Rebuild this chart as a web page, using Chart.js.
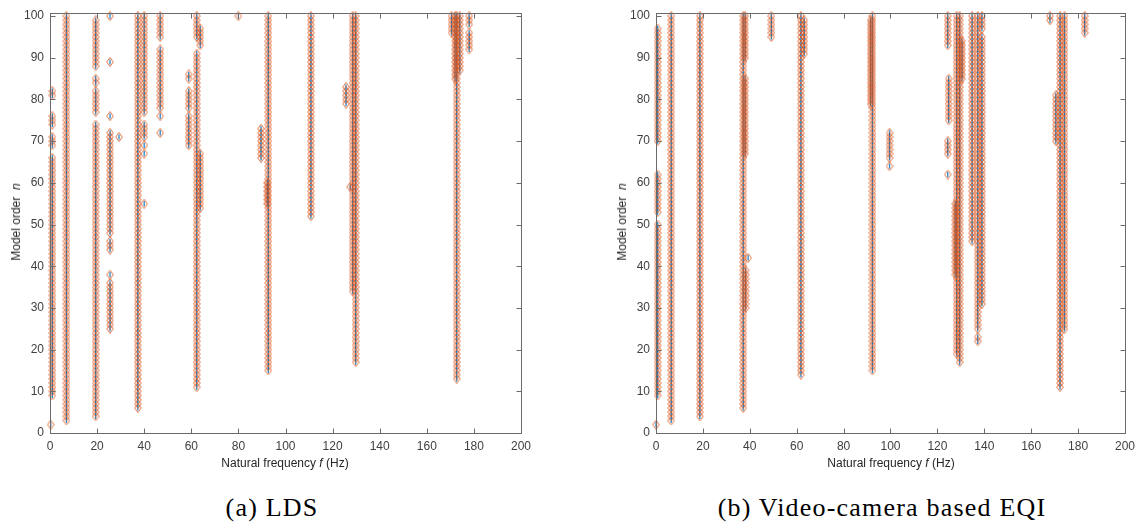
<!DOCTYPE html>
<html>
<head>
    <title>Stabilization diagrams</title>
    <script src="https://cdn.jsdelivr.net/npm/chart.js@4.4.1/dist/chart.umd.min.js"></script>
    <style>
        body {
            margin: 0;
            background: #fff;
            width: 1141px;
            height: 532px;
            position: relative;
            overflow: hidden;
        }
        canvas {
            position: absolute;
            top: 0;
        }
        .axis-title {
            position: absolute;
            font-family: "Liberation Sans", Arial, sans-serif;
            font-size: 12px;
            color: #262626;
            white-space: nowrap;
            transform: translate(-50%, -50%);
        }
        .axis-title.vertical {
            transform: translate(-50%, -50%) rotate(-90deg);
        }
        .caption {
            position: absolute;
            font-family: "Liberation Serif", "Times New Roman", serif;
            font-size: 26px;
            letter-spacing: 1.2px;
            color: #000;
            white-space: nowrap;
            transform: translate(-50%, -50%);
        }
    </style>
</head>
<body>
    <canvas id="ldsChart" width="570" height="480" style="left:0"></canvas>
    <canvas id="eqiChart" width="571" height="480" style="left:570px"></canvas>

    <div class="axis-title" style="left:285px; top:463px">Natural frequency <i>f</i> (Hz)</div>
    <div class="axis-title" style="left:891px; top:463px">Natural frequency <i>f</i> (Hz)</div>
    <div class="axis-title vertical" style="left:16px; top:222px">Model order&nbsp; <i>n</i></div>
    <div class="axis-title vertical" style="left:622px; top:222px">Model order&nbsp; <i>n</i></div>

    <div class="caption" style="left:272px; top:508px">(a) LDS</div>
    <div class="caption" style="left:882px; top:508px">(b) Video-camera based EQI</div>

    <script>
        // stable poles: [frequency (Hz), lowest order n, highest order n]
        const ldsPoles = [
            [0.3, 2, 2], [1, 9, 66], [1, 69, 71], [1, 74, 76], [1, 81, 82],
            [7, 3, 100],
            [19.4, 4, 74], [19.4, 77, 82], [19.4, 84, 85], [19.4, 88, 99],
            [25.5, 25, 36], [25.5, 38, 38], [25.5, 44, 46], [25.5, 48, 72],
            [25.5, 76, 76], [25.5, 89, 89], [25.5, 100, 100], [29.3, 71, 71],
            [37.3, 6, 100],
            [40, 77, 100], [40, 71, 74], [40, 69, 69], [40, 67, 67], [40, 55, 55],
            [46.8, 95, 100], [46.8, 78, 92], [46.8, 76, 76], [46.8, 72, 72],
            [58.9, 85, 86], [58.9, 78, 82], [58.9, 69, 76],
            [62.3, 11, 91], [62.3, 95, 100], [63.8, 93, 97], [63.8, 54, 67],
            [80, 100, 100],
            [89.6, 66, 73],
            [92.7, 15, 100], [92.3, 55, 60],
            [110.8, 52, 100],
            [125.7, 79, 83], [128.5, 34, 100], [129.8, 17, 100], [127.5, 59, 59],
            [170.5, 96, 100], [172.7, 13, 100], [172, 85, 100], [174, 87, 100],
            [178, 98, 100], [178, 92, 96]
        ];

        const eqiPoles = [
            [0, 2, 2], [0.7, 9, 50], [0.7, 53, 62], [0.7, 70, 97],
            [6.5, 3, 100],
            [18.7, 4, 100],
            [37.2, 6, 100], [38, 90, 100], [38, 67, 85], [39.3, 42, 42], [38.2, 30, 39],
            [49.2, 95, 100],
            [61.8, 14, 100], [63.2, 91, 99],
            [92.3, 15, 100], [91.5, 79, 99],
            [99.6, 66, 72], [99.6, 64, 64],
            [124.4, 93, 100], [124.8, 75, 85], [124.4, 67, 70], [124.4, 62, 62],
            [128.2, 19, 100], [129.5, 17, 100], [130.5, 85, 94], [127.6, 38, 55],
            [134.8, 46, 100],
            [137.2, 25, 100], [137.2, 22, 23],
            [139, 31, 95], [139, 97, 100],
            [168, 99, 100],
            [170.5, 70, 81], [172.3, 11, 100], [174.2, 25, 100],
            [182.8, 96, 100]
        ];

        const freqTicks = [0, 20, 40, 60, 80, 100, 120, 140, 160, 180, 200];
        const orderTicks = [0, 10, 20, 30, 40, 50, 60, 70, 80, 90, 100];

        // one pole per model order inside each stable range
        function polePoints(poles) {
            const pts = [];
            poles.forEach(([f, lo, hi]) => {
                for (let n = lo; n <= hi; n++) pts.push({ x: f, y: n });
            });
            return pts;
        }

        // tall hollow diamond marker, like the MATLAB one
        const diamond = document.createElement('canvas');
        diamond.width = 8;
        diamond.height = 10;
        (function () {
            const c = diamond.getContext('2d');
            c.strokeStyle = 'rgba(217, 83, 25, 0.8)';
            c.lineWidth = 1;
            c.beginPath();
            c.moveTo(4, 0.5);
            c.lineTo(7.3, 5);
            c.lineTo(4, 9.5);
            c.lineTo(0.7, 5);
            c.closePath();
            c.stroke();
        })();

        const axisColor = '#6b6b6b';

        const boxPlugin = {
            id: 'box',
            afterDatasetsDraw(chart) {
                const { ctx, chartArea: a, scales: { x, y } } = chart;
                ctx.save();
                ctx.strokeStyle = axisColor;
                ctx.lineWidth = 1;
                const L = Math.round(a.left) + 0.5, R = Math.round(a.right) + 0.5;
                const T = Math.round(a.top) + 0.5, B = Math.round(a.bottom) + 0.5;
                ctx.strokeRect(L, T, R - L, B - T);
                ctx.beginPath();
                freqTicks.forEach(v => {
                    const px = Math.round(x.getPixelForValue(v)) + 0.5;
                    ctx.moveTo(px, B); ctx.lineTo(px, B - 5);
                    ctx.moveTo(px, T); ctx.lineTo(px, T + 5);
                });
                orderTicks.forEach(v => {
                    const py = Math.round(y.getPixelForValue(v)) + 0.5;
                    ctx.moveTo(L, py); ctx.lineTo(L + 5, py);
                    ctx.moveTo(R, py); ctx.lineTo(R - 5, py);
                });
                ctx.stroke();
                ctx.restore();
            }
        };

        function makeChart(id, poles, yAxisWidth, padRight) {
            const pts = polePoints(poles);
            return new Chart(document.getElementById(id), {
                type: 'scatter',
                data: {
                    datasets: [{
                        data: pts,
                        pointStyle: diamond,
                        pointRadius: 4,
                        clip: false
                    }, {
                        data: pts,
                        pointStyle: 'line',
                        rotation: 90,
                        pointRadius: 2.6,
                        borderWidth: 1.3,
                        borderColor: 'rgba(0, 114, 189, 0.85)',
                        backgroundColor: 'rgba(0,0,0,0)',
                        clip: false
                    }]
                },
                options: {
                    responsive: false,
                    animation: false,
                    events: [],
                    layout: { padding: { left: 0, right: padRight, top: 10.5, bottom: 0 } },
                    plugins: {
                        legend: { display: false },
                        tooltip: { enabled: false }
                    },
                    scales: {
                        x: {
                            type: 'linear',
                            min: 0,
                            max: 200,
                            afterBuildTicks: s => { s.ticks = freqTicks.map(v => ({ value: v })); },
                            afterFit: s => { s.height = 47; },
                            grid: { display: false, drawTicks: false },
                            border: { display: false },
                            ticks: {
                                padding: 6,
                                maxRotation: 0,
                                color: '#404040',
                                font: { family: 'Liberation Sans', size: 12 }
                            }
                        },
                        y: {
                            type: 'linear',
                            min: 0,
                            max: 100.7,
                            afterBuildTicks: s => { s.ticks = orderTicks.map(v => ({ value: v })); },
                            afterFit: s => { s.width = yAxisWidth; },
                            grid: { display: false, drawTicks: false },
                            border: { display: false },
                            ticks: {
                                padding: 6,
                                color: '#404040',
                                font: { family: 'Liberation Sans', size: 12 }
                            }
                        }
                    }
                },
                plugins: [boxPlugin]
            });
        }

        makeChart('ldsChart', ldsPoles, 50, 49);
        makeChart('eqiChart', eqiPoles, 86, 15);
    </script>
</body>
</html>
